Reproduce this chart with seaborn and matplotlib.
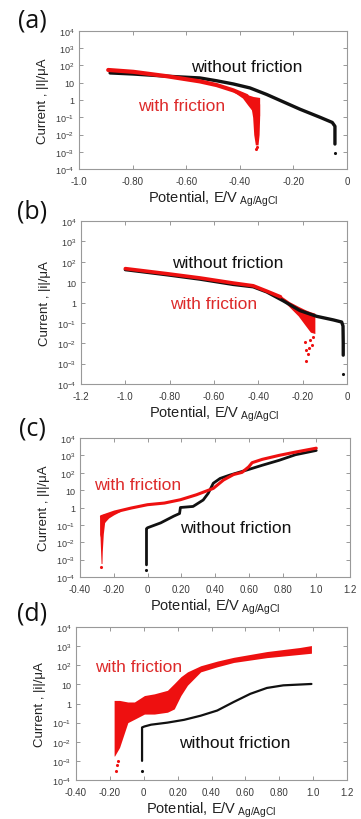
import numpy as np
import pandas as pd
import matplotlib
matplotlib.use("Agg")
import matplotlib.pyplot as plt
import seaborn as sns
from matplotlib.ticker import FixedLocator, FixedFormatter, NullLocator

# ---------------- data ----------------
# panel (a)
a_wo_E = [-0.884, -0.797, -0.673, -0.549, -0.486, -0.424, -0.362, -0.300, -0.250, -0.175, -0.101, -0.055, -0.045, -0.045]
a_wo_I = [37, 32, 24, 19, 13, 8.5, 5.0, 2.1, 0.95, 0.29, 0.10, 0.05, 0.03, 0.0028]
a_wo_dotE = [-0.045]
a_wo_dotI = [0.0009]
a_w_E = [-0.891, -0.797, -0.673, -0.549, -0.486, -0.424, -0.374]
a_w_I = [55, 43, 24, 12, 7.3, 3.6, 1.7]
a_band_E = [-0.424, -0.39, -0.37, -0.35, -0.326]
a_band_hi = [4.2, 2.8, 2.0, 1.6, 1.4]
a_band_lo = [3.0, 1.3, 0.5, 0.2, 0.12]
a_drop_I = [0.0025, 0.01, 0.1, 0.6]
a_drop_left = [-0.342, -0.348, -0.352, -0.36]
a_drop_right = [-0.332, -0.328, -0.326, -0.326]
a_w_dotE = [-0.338, -0.335]
a_w_dotI = [0.0015, 0.002]

# panel (b)
b_wo_E = [-1.0, -0.813, -0.663, -0.513, -0.423, -0.362, -0.287, -0.212, -0.137, -0.062, -0.024, -0.018, -0.017, -0.017]
b_wo_I = [41, 23, 14, 7.7, 5.9, 3.3, 1.2, 0.4, 0.21, 0.14, 0.11, 0.07, 0.01, 0.0026]
b_wo_dotE = [-0.017]
b_wo_dotI = [0.0003]
b_w_E = [-1.0, -0.813, -0.663, -0.513, -0.423, -0.362, -0.30]
b_w_I = [46, 26, 16, 9, 6.6, 3.6, 1.9]
b_band_E = [-0.30, -0.26, -0.22, -0.19, -0.165, -0.145]
b_band_hi = [2.2, 1.1, 0.65, 0.45, 0.35, 0.3]
b_band_lo = [1.6, 0.6, 0.22, 0.08, 0.035, 0.03]
b_w_dotE = [-0.19, -0.185, -0.183, -0.175, -0.17, -0.165, -0.16, -0.155]
b_w_dotI = [0.012, 0.0046, 0.0013, 0.003, 0.006, 0.015, 0.008, 0.02]

# panel (c)
c_wo_E = [-0.006, -0.006, -0.006, 0.0, 0.078, 0.156, 0.19, 0.195, 0.27, 0.33, 0.36, 0.39, 0.43, 0.487, 0.585, 0.68, 0.78, 0.877, 1.0]
c_wo_I = [0.0005, 0.01, 0.06, 0.068, 0.13, 0.32, 0.45, 1.0, 1.15, 2.7, 6.6, 25, 47, 73, 140, 270, 520, 1090, 1920]
c_wo_dotE = [-0.006]
c_wo_dotI = [0.00025]
c_w_E = [-0.273, -0.195, -0.097, 0.0, 0.1, 0.195, 0.29, 0.39, 0.45, 0.51, 0.56, 0.60, 0.62, 0.68, 0.78, 0.877, 1.0]
c_w_I = [0.3, 0.55, 0.93, 1.45, 1.8, 2.8, 5.4, 12.6, 38, 79, 105, 220, 380, 590, 1000, 1550, 2600]
c_band_E = [-0.283, -0.26, -0.23, -0.2, -0.16]
c_band_hi = [0.35, 0.42, 0.5, 0.6, 0.75]
c_band_lo = [0.02, 0.12, 0.25, 0.38, 0.6]
c_drop_I = [0.0006, 0.003, 0.03, 0.3]
c_drop_left = [-0.275, -0.278, -0.282, -0.283]
c_drop_right = [-0.27, -0.268, -0.262, -0.25]
c_w_dotE = [-0.273]
c_w_dotI = [0.0004]

# panel (d)
d_wo_E = [-0.01, -0.01, -0.01, 0.004, 0.043, 0.14, 0.238, 0.336, 0.434, 0.531, 0.629, 0.727, 0.824, 0.99]
d_wo_I = [0.001, 0.01, 0.056, 0.063, 0.078, 0.10, 0.14, 0.23, 0.43, 1.2, 3.2, 6.5, 8.9, 10.5]
d_wo_dotE = [-0.01]
d_wo_dotI = [0.0003]
d_band_E = [-0.175, -0.172, -0.143, -0.094, -0.055, 0.004, 0.0625, 0.14, 0.18, 0.219, 0.258, 0.336, 0.434, 0.531, 0.727, 0.922, 0.99]
d_band_hi = [1.45, 1.45, 1.45, 1.2, 1.2, 2.6, 3.2, 4.9, 11, 25, 45, 94, 165, 260, 520, 850, 1070]
d_band_lo = [0.0018, 0.0018, 0.005, 0.1, 0.15, 0.28, 0.28, 0.35, 0.52, 2.6, 9, 45, 83, 140, 250, 370, 425]
d_w_dotE = [-0.165, -0.16, -0.15]
d_w_dotI = [0.0003, 0.0006, 0.001]

# tick labels
y_ticks = [1e-4, 1e-3, 1e-2, 1e-1, 1, 10, 1e2, 1e3, 1e4]
y_labels = ["$10^{-4}$", "$10^{-3}$", "$10^{-2}$", "$10^{-1}$", "1", "10", "$10^{2}$", "$10^{3}$", "$10^{4}$"]
a_xticks = [-1.0, -0.8, -0.6, -0.4, -0.2, 0.0]
a_xlabels = ["-1.0", "-0.80", "-0.60", "-0.40", "-0.20", "0"]
b_xticks = [-1.2, -1.0, -0.8, -0.6, -0.4, -0.2, 0.0]
b_xlabels = ["-1.2", "-1.0", "-0.80", "-0.60", "-0.40", "-0.20", "0"]
cd_xticks = [-0.4, -0.2, 0.0, 0.2, 0.4, 0.6, 0.8, 1.0, 1.2]
cd_xlabels = ["-0.40", "-0.20", "0", "0.20", "0.40", "0.60", "0.80", "1.0", "1.2"]

# ---------------- style ----------------
sns.set_theme(style="white")
plt.rcParams["font.family"] = ["Liberation Sans", "DejaVu Sans"]
plt.rcParams["mathtext.fontset"] = "custom"
plt.rcParams["mathtext.rm"] = "Liberation Sans"
plt.rcParams["mathtext.it"] = "Liberation Sans:italic"
plt.rcParams["mathtext.default"] = "regular"

RED = "#ee1010"
RED_TXT = "#dd2a2a"
BLK = "#111111"
W, H = 361, 820

fig = plt.figure(figsize=(W / 100, H / 100), dpi=100)


def make_ax(l, r, t, b):
    return fig.add_axes([l / W, 1 - b / H, (r - l) / W, (b - t) / H])


def style_ax(ax, xlim, xticks, xlabels, ylab):
    ax.set_yscale("log")
    ax.set_ylim(1e-4, 1e4)
    ax.set_xlim(*xlim)
    ax.yaxis.set_major_locator(FixedLocator(y_ticks))
    ax.yaxis.set_major_formatter(FixedFormatter(y_labels))
    ax.yaxis.set_minor_locator(NullLocator())
    ax.xaxis.set_major_locator(FixedLocator(xticks))
    ax.xaxis.set_major_formatter(FixedFormatter(xlabels))
    ax.tick_params(direction="in", length=3, width=0.6, color="#888888",
                   labelsize=7, labelcolor="#3a3a3a", top=True, right=True,
                   left=True, bottom=True)
    ax.tick_params(axis="x", pad=5)
    ax.tick_params(axis="y", pad=3.5, labelsize=6.5)
    for s in ax.spines.values():
        s.set_color("#999999")
        s.set_linewidth(0.8)
    ax.set_ylabel(ylab, fontsize=9.5, color="#222222", labelpad=4)
    ax.set_xlabel("Potential, E/V$_{\\ Ag/AgCl}$", fontsize=10.5, color="#222222", labelpad=2)


def line(ax, E, I, color, lw):
    sns.lineplot(x=E, y=I, ax=ax, color=color, lw=lw, sort=False, estimator=None,
                 legend=False)


def dots(ax, E, I, color):
    sns.scatterplot(x=E, y=I, ax=ax, color=color, s=5, linewidth=0, legend=False)


# ---- (a)
ax = make_ax(79, 347, 32, 170)
style_ax(ax, (-1.0, 0.0), a_xticks, a_xlabels, "Current , |I|/μA")
line(ax, a_wo_E, a_wo_I, BLK, 2.4)
dots(ax, a_wo_dotE, a_wo_dotI, BLK)
ax.fill_between(a_band_E, a_band_lo, a_band_hi, color=RED, lw=0)
ax.fill_betweenx(a_drop_I, a_drop_left, a_drop_right, color=RED, lw=0)
line(ax, a_w_E, a_w_I, RED, 3.0)
dots(ax, a_w_dotE, a_w_dotI, RED)
ax.text(0.627, 0.746, "without friction", transform=ax.transAxes, ha="center", va="center",
        fontsize=12.5, color=BLK)
ax.text(0.384, 0.457, "with friction", transform=ax.transAxes, ha="center", va="center",
        fontsize=12.5, color=RED_TXT)

# ---- (b)
ax = make_ax(81, 347, 222, 385)
style_ax(ax, (-1.2, 0.0), b_xticks, b_xlabels, "Current , |i|/μA")
ax.fill_between(b_band_E, b_band_lo, b_band_hi, color=RED, lw=0)
dots(ax, b_w_dotE, b_w_dotI, RED)
line(ax, b_wo_E, b_wo_I, BLK, 2.4)
dots(ax, b_wo_dotE, b_wo_dotI, BLK)
line(ax, b_w_E, b_w_I, RED, 2.6)
ax.text(0.553, 0.748, "without friction", transform=ax.transAxes, ha="center", va="center",
        fontsize=12.5, color=BLK)
ax.text(0.5, 0.491, "with friction", transform=ax.transAxes, ha="center", va="center",
        fontsize=12.5, color=RED_TXT)

# ---- (c)
ax = make_ax(80, 350, 439, 578)
style_ax(ax, (-0.4, 1.2), cd_xticks, cd_xlabels, "Current , |I|/μA")
line(ax, c_wo_E, c_wo_I, BLK, 2.0)
dots(ax, c_wo_dotE, c_wo_dotI, BLK)
ax.fill_between(c_band_E, c_band_lo, c_band_hi, color=RED, lw=0)
ax.fill_betweenx(c_drop_I, c_drop_left, c_drop_right, color=RED, lw=0)
line(ax, c_w_E, c_w_I, RED, 2.2)
dots(ax, c_w_dotE, c_w_dotI, RED)
ax.text(0.213, 0.669, "with friction", transform=ax.transAxes, ha="center", va="center",
        fontsize=12.5, color=RED_TXT)
ax.text(0.576, 0.358, "without friction", transform=ax.transAxes, ha="center", va="center",
        fontsize=12.5, color=BLK)

# ---- (d)
ax = make_ax(76, 347, 628, 781)
style_ax(ax, (-0.4, 1.2), cd_xticks, cd_xlabels, "Current , |i|/μA")
ax.fill_between(d_band_E, d_band_lo, d_band_hi, color=RED, lw=0)
dots(ax, d_w_dotE, d_w_dotI, RED)
line(ax, d_wo_E, d_wo_I, BLK, 1.6)
dots(ax, d_wo_dotE, d_wo_dotI, BLK)
ax.text(0.232, 0.745, "with friction", transform=ax.transAxes, ha="center", va="center",
        fontsize=12.5, color=RED_TXT)
ax.text(0.587, 0.248, "without friction", transform=ax.transAxes, ha="center", va="center",
        fontsize=12.5, color=BLK)

# panel letters
for lab, yc in [("(a)", 21), ("(b)", 212), ("(c)", 429), ("(d)", 614)]:
    fig.text(32 / W, 1 - yc / H, lab, ha="center", va="center", fontsize=18, color="#111111",
             family=["Open Sans", "DejaVu Sans"])

fig.savefig("out.png", dpi=100)
